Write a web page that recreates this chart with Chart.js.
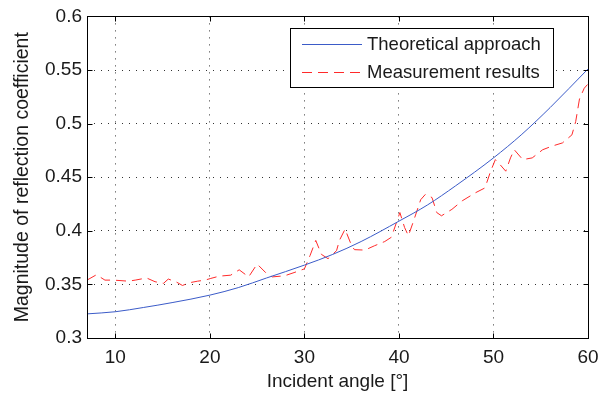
<!DOCTYPE html>
<html>
<head>
<meta charset="utf-8">
<script src="https://cdn.jsdelivr.net/npm/chart.js@4.4.0/dist/chart.umd.min.js"></script>
<style>
    html, body { margin: 0; padding: 0; background: #fff; }
    #wrap { width: 610px; height: 396px; }
</style>
</head>
<body>
<div id="wrap"><canvas id="reflChart"></canvas></div>
<script>
// Theoretical curve
const theoryAngles = [7, 10, 13, 16, 20, 23, 26, 30, 33, 36, 40, 43, 46, 50, 53, 56, 60];
const theoryValues = [0.3225, 0.3245, 0.3285, 0.333, 0.340, 0.347, 0.356, 0.368, 0.378, 0.390,
    0.409, 0.424, 0.442, 0.468, 0.490, 0.515, 0.551];

// Measured curve
const measAngles = [7.0, 8.0, 8.9, 9.8, 11.4, 12.1, 13.3, 14.2, 15.1, 15.6, 16.5, 17.1, 17.8, 18.7,
    19.5, 20.1, 21.0, 22.2, 23.1, 24.1, 25.0, 25.9, 26.6, 27.9, 28.9, 30.0, 30.6, 31.2, 31.8,
    32.5, 33.4, 33.7, 34.3, 35.0, 35.3, 36.4, 37.4, 38.5, 39.2, 40.1, 40.6, 41.0, 41.5, 42.3,
    42.8, 43.5, 44.0, 44.5, 45.6, 46.7, 48.1, 49.1, 49.7, 50.2, 50.7, 51.3, 51.8, 52.2, 53.1,
    54.1, 55.2, 56.2, 57.3, 58.3, 58.7, 59.1, 59.6, 60.0];
const measValues = [0.354, 0.359, 0.354, 0.354, 0.353, 0.354, 0.356, 0.3525, 0.351, 0.355, 0.352,
    0.349, 0.3515, 0.353, 0.354, 0.3556, 0.3577, 0.3586, 0.3636, 0.357, 0.369, 0.361, 0.357,
    0.358, 0.361, 0.3645, 0.377, 0.391, 0.378, 0.374, 0.3815, 0.391, 0.4015, 0.386, 0.3824,
    0.382, 0.386, 0.390, 0.394, 0.417, 0.403, 0.3954, 0.408, 0.429, 0.434, 0.431, 0.417, 0.414,
    0.420, 0.428, 0.4355, 0.440, 0.4556, 0.4664, 0.4617, 0.4556, 0.468, 0.4756, 0.4664, 0.468,
    0.4756, 0.479, 0.482, 0.4895, 0.502, 0.523, 0.533, 0.537];

const xTicks = [10, 20, 30, 40, 50, 60];
const seriesNames = ['Theoretical approach', 'Measurement results'];

const FONT = "'Liberation Sans', Arial, sans-serif";
const TEXT = '#1a1a1a';
const BLUE = '#3b5bc8';
const RED = '#ff2a2a';

function toPoints(xs, ys) {
    return xs.map((x, i) => ({ x: x, y: ys[i] }));
}

// Axes box, inward tick marks and the boxed legend
const matlabFrame = {
    id: 'matlabFrame',
    afterDraw(chart) {
        const ctx = chart.ctx;
        const area = chart.chartArea;
        const xs = chart.scales.x;
        const ys = chart.scales.y;
        const L = Math.round(area.left) + 0.5, R = Math.round(area.right) + 0.5;
        const T = Math.round(area.top) + 0.5, B = Math.round(area.bottom) + 0.5;
        const tick = 5;

        ctx.save();
        ctx.strokeStyle = '#000';
        ctx.lineWidth = 1;
        ctx.beginPath();
        xs.ticks.forEach(t => {
            const px = Math.round(xs.getPixelForValue(t.value)) + 0.5;
            ctx.moveTo(px, B); ctx.lineTo(px, B - tick);
            ctx.moveTo(px, T); ctx.lineTo(px, T + tick);
        });
        ys.ticks.forEach(t => {
            const py = Math.round(ys.getPixelForValue(t.value)) + 0.5;
            ctx.moveTo(L, py); ctx.lineTo(L + tick, py);
            ctx.moveTo(R, py); ctx.lineTo(R - tick, py);
        });
        ctx.stroke();
        ctx.strokeRect(L, T, R - L, B - T);

        // legend
        const box = { left: 290.5, top: 28.5, width: 263, height: 59 };
        ctx.fillStyle = '#fff';
        ctx.fillRect(box.left, box.top, box.width, box.height);
        ctx.strokeRect(box.left, box.top, box.width, box.height);
        ctx.font = '18.5px ' + FONT;
        ctx.textBaseline = 'middle';
        chart.data.datasets.forEach((ds, i) => {
            const y = 44 + i * 28;
            ctx.strokeStyle = ds.borderColor;
            ctx.setLineDash(ds.borderDash || []);
            ctx.beginPath();
            ctx.moveTo(302, y + 0.5);
            ctx.lineTo(362, y + 0.5);
            ctx.stroke();
            ctx.setLineDash([]);
            ctx.fillStyle = TEXT;
            ctx.fillText(ds.label, 367, y + 1);
        });
        ctx.restore();
    }
};

let reflChart;

document.addEventListener('DOMContentLoaded', () => {
    const ctx = document.getElementById('reflChart').getContext('2d');
    reflChart = new Chart(ctx, {
        type: 'line',
        data: {
            datasets: [
                {
                    label: seriesNames[0],
                    data: toPoints(theoryAngles, theoryValues),
                    borderColor: BLUE,
                    borderWidth: 1,
                    pointRadius: 0,
                    cubicInterpolationMode: 'monotone'
                },
                {
                    label: seriesNames[1],
                    data: toPoints(measAngles, measValues),
                    borderColor: RED,
                    borderWidth: 1,
                    borderDash: [10, 6],
                    pointRadius: 0,
                    tension: 0
                }
            ]
        },
        options: {
            responsive: true,
            maintainAspectRatio: false,
            animation: false,
            layout: { padding: { top: 14, right: 22, left: 0, bottom: 0 } },
            plugins: {
                legend: { display: false },
                tooltip: { enabled: false }
            },
            scales: {
                x: {
                    type: 'linear',
                    min: 7,
                    max: 60,
                    afterBuildTicks: scale => {
                        scale.ticks = xTicks.map(v => ({ value: v }));
                    },
                    afterFit: scale => { scale.height = 58; },
                    grid: { color: '#333', lineWidth: 1, drawTicks: false },
                    border: { display: false, dash: [1, 6] },
                    ticks: {
                        padding: 8,
                        color: TEXT,
                        font: { family: FONT, size: 19 },
                        callback: v => String(v)
                    },
                    title: {
                        display: true,
                        text: 'Incident angle [°]',
                        color: TEXT,
                        font: { family: FONT, size: 19 },
                        padding: { top: 0, bottom: 3 }
                    }
                },
                y: {
                    min: 0.3,
                    max: 0.6,
                    afterFit: scale => { scale.width = 87; },
                    grid: { color: '#333', lineWidth: 1, drawTicks: false },
                    border: { display: false, dash: [1, 6] },
                    ticks: {
                        stepSize: 0.05,
                        padding: 5,
                        color: TEXT,
                        font: { family: FONT, size: 19 },
                        callback: v => String(+v.toFixed(2))
                    },
                    title: {
                        display: true,
                        text: 'Magnitude of reflection coefficient',
                        color: TEXT,
                        font: { family: FONT, size: 19.5 },
                        padding: { top: 11, bottom: 0 }
                    }
                }
            }
        },
        plugins: [matlabFrame]
    });
});
</script>
</body>
</html>
